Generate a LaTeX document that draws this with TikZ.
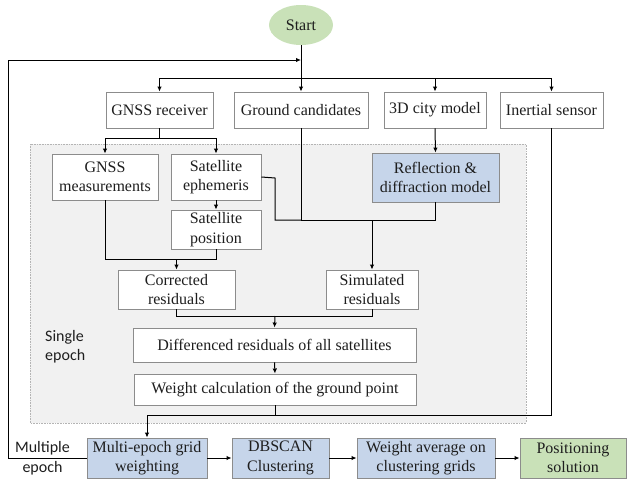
\documentclass[tikz,border=0pt]{standalone}
\usepackage{fontspec}
\setmainfont{Liberation Serif}
\newfontfamily\boxfont{Liberation Serif}
\newfontfamily\labelfont{Carlito}
\usetikzlibrary{arrows.meta,shapes.geometric}
\definecolor{boxline}{HTML}{8C8C8C}
\definecolor{bluefill}{HTML}{C6D5EA}
\definecolor{greenfill}{HTML}{C9E1B8}
\definecolor{regionfill}{HTML}{F1F1F1}
\definecolor{regionline}{HTML}{B4B4B4}
\definecolor{txt}{HTML}{1E1E1E}
\begin{document}
\begin{tikzpicture}[x=1pt,y=-1pt,
  font=\boxfont\fontsize{16}{19.5}\selectfont,
  box/.style={draw=boxline,line width=0.9pt,fill=white,inner sep=0pt,align=center,text=txt},
  bluebox/.style={box,fill=bluefill},
  greenbox/.style={box,fill=greenfill},
  conn/.style={line width=1pt,black},
  arr/.style={conn,-{Latex[length=5pt,width=4.5pt]}},
  side/.style={font=\labelfont\fontsize{16}{19.5}\selectfont,text=txt,inner sep=0pt}]
\useasboundingbox (0,0) rectangle (627,483);
% single-epoch region
\fill[regionfill] (30,144) rectangle (526,423);
\draw[regionline,densely dotted,line width=0.6pt] (30,144) rectangle (526,423);
% nodes
\node[ellipse,fill=greenfill,draw=none,minimum width=64pt,minimum height=40pt,inner sep=0pt,text=txt] (start) at (301,25) {Start};
\node[box,minimum width=107pt,minimum height=36pt] (recv) at (159.5,110) {GNSS receiver};
\node[box,minimum width=134pt,minimum height=36pt] (cand) at (301,110) {Ground candidates};
\node[box,minimum width=102pt,minimum height=36pt] (city) at (435,110) {3D city model};
\node[box,minimum width=103pt,minimum height=36pt] (iner) at (551.5,110) {Inertial sensor};
\node[box,minimum width=106pt,minimum height=46pt] (meas) at (105,177) {GNSS\\measurements};
\node[box,minimum width=90pt,minimum height=46pt] (ephe) at (216,177) {Satellite\\ephemeris};
\node[box,minimum width=90pt,minimum height=39pt] (posn) at (216,229.5) {Satellite\\position};
\node[bluebox,minimum width=127pt,minimum height=49pt] (refl) at (435.5,177.5) {Reflection \&\\diffraction model};
\node[box,minimum width=117pt,minimum height=39pt] (corr) at (176.5,289.5) {Corrected\\residuals};
\node[box,minimum width=92pt,minimum height=39pt] (simu) at (372,289.5) {Simulated\\residuals};
\node[box,minimum width=283pt,minimum height=34pt] (diff) at (274.5,345) {Differenced residuals of all satellites};
\node[box,minimum width=282pt,minimum height=31pt] (wcal) at (275,389.5) {Weight calculation of the ground point};
\node[bluebox,minimum width=120pt,minimum height=40pt] (mult) at (147,458) {Multi-epoch grid\\weighting};
\node[bluebox,minimum width=97pt,minimum height=40pt] (dbsc) at (280.5,458) {DBSCAN\\Clustering};
\node[bluebox,minimum width=138pt,minimum height=40pt] (wavg) at (426,458) {Weight average on\\clustering grids};
\node[greenbox,minimum width=106pt,minimum height=40pt] (posi) at (573,458) {Positioning\\solution};
\node[side,align=left,anchor=west] (single) at (45,346.5) {Single\\epoch};
\node[side,align=center] (multi) at (42.5,458) {Multiple\\epoch};
% coordinates
\coordinate (fb) at (301,60);
\coordinate (dist) at (301,78);
\coordinate (rsplit) at (159.5,138);
\coordinate (mjoin) at (301,220);
\coordinate (pjoin) at (176.5,259);
\coordinate (cjoin) at (275,316);
\coordinate (ijoin) at (147,415);
% connectors
\draw[conn] (start.south) -- (dist);
\draw[arr] (dist) -- (cand.north);
\draw[arr] (dist) -| (recv.north);
\draw[arr] (dist) -| (city.north);
\draw[arr] (dist) -| (iner.north);
\draw[arr] (mult.west) -- (8,458) -- (8,60) -- (fb);
\draw[conn] (recv.south) -- (rsplit);
\draw[arr] (rsplit) -| (meas.north);
\draw[arr] (rsplit) -| (ephe.north);
\draw[arr] (ephe.south) -- (posn.north);
\draw[arr] (city.south) -- (refl.north);
\draw[conn] (ephe.east) -- (275,178) -- (275,220) -- (mjoin);
\draw[conn] (cand.south) -- (mjoin);
\draw[conn] (refl.south) |- (mjoin);
\draw[arr] (372,220) -- (simu.north);
\draw[conn] (meas.south) |- (pjoin);
\draw[conn] (posn.south) |- (pjoin);
\draw[arr] (pjoin) -- (corr.north);
\draw[conn] (corr.south) |- (cjoin);
\draw[conn] (simu.south) |- (cjoin);
\draw[arr] (cjoin) -- (diff.north);
\draw[arr] (diff.south) -- (wcal.north);
\draw[conn] (wcal.south) -- (275,415);
\draw[conn] (iner.south) |- (ijoin);
\draw[arr] (ijoin) -- (mult.north);
\draw[arr] (mult) -- (dbsc);
\draw[arr] (dbsc) -- (wavg);
\draw[arr] (wavg) -- (posi);
\end{tikzpicture}
\end{document}
